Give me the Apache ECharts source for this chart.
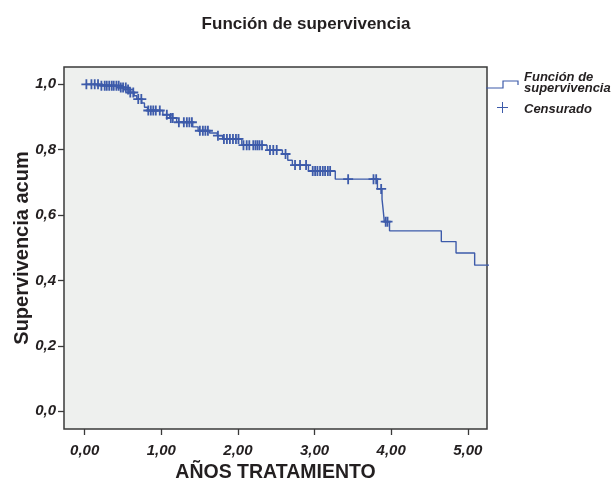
<!DOCTYPE html>
<html>
<head>
<meta charset="utf-8">
<script src="https://cdn.jsdelivr.net/npm/echarts@6/dist/echarts.min.js"></script>
<style>html,body{margin:0;padding:0;background:#fff}#c{width:612px;height:483px}</style>
</head>
<body>
<div id="c"></div>
<script>
// Kaplan-Meier step curve: event times (years) and cumulative survival after each event
const eventTimes = [0, 0.20, 0.45, 0.555, 0.59, 0.645, 0.68, 0.745, 0.78, 0.82, 1.02, 1.11, 1.20, 1.41, 1.48, 1.63, 1.73, 1.80, 2.05, 2.38, 2.58, 2.65, 2.71, 2.92, 3.27, 3.82, 3.88, 3.895, 3.91, 3.978, 4.654, 4.846, 5.089];
const survival   = [1.0, 0.996, 0.99, 0.984, 0.975, 0.965, 0.955, 0.943, 0.93, 0.92, 0.907, 0.897, 0.884, 0.870, 0.858, 0.851, 0.843, 0.833, 0.814, 0.799, 0.787, 0.768, 0.753, 0.735, 0.710, 0.680, 0.649, 0.616, 0.580, 0.552, 0.519, 0.484, 0.447];
const followUpEnd = 5.3;
// censored observation times (years)
const censoredTimes = [0.022, 0.088, 0.131, 0.174, 0.218, 0.261, 0.288, 0.320, 0.353, 0.379, 0.414, 0.444, 0.471, 0.501, 0.536, 0.566, 0.595, 0.634, 0.699, 0.739, 0.830, 0.863, 0.895, 0.928, 0.980, 1.072, 1.124, 1.150, 1.229, 1.294, 1.333, 1.366, 1.399, 1.503, 1.542, 1.575, 1.608, 1.739, 1.817, 1.856, 1.895, 1.935, 1.974, 2.007, 2.072, 2.114, 2.148, 2.200, 2.229, 2.255, 2.281, 2.314, 2.418, 2.461, 2.506, 2.621, 2.745, 2.810, 2.889, 2.976, 3.007, 3.037, 3.072, 3.107, 3.137, 3.173, 3.203, 3.438, 3.769, 3.804, 3.869, 3.928, 3.952];
const xTicks = [0, 1, 2, 3, 4, 5];
const yTicks = [0, 0.2, 0.4, 0.6, 0.8, 1.0];

const LINE = '#3D5BAA';
const FONT = "'Liberation Sans', Arial, sans-serif";

function survAt(t) {
  let s = survival[0];
  for (let i = 0; i < eventTimes.length; i++) { if (eventTimes[i] <= t) s = survival[i]; }
  return s;
}
const stepData = eventTimes.map((t, i) => [t, survival[i]]);
stepData.push([followUpEnd, survival[survival.length - 1]]);
const censData = censoredTimes.map(t => [t, survAt(t)]);

const chart = echarts.init(document.getElementById('c'), null, {renderer: 'canvas'});
const plus = 'path://M4.1,0 H5.9 V4.1 H10 V5.9 H5.9 V10 H4.1 V5.9 H0 V4.1 H4.1 Z';
const LEG_FONT = "italic bold 13px 'Liberation Sans', Arial";
chart.setOption({
  animation: false,
  backgroundColor: '#ffffff',
  title: {
    text: 'Función de supervivencia', left: 'center', top: 11,
    textStyle: {fontFamily: FONT, fontWeight: 'bold', fontSize: 17, color: '#231f20'}
  },
  grid: {
    left: 64, right: 125, top: 67, bottom: 54, show: true,
    outerBoundsMode: 'none', containLabel: false,
    backgroundColor: '#EEF0EE', borderColor: '#3a3a3a', borderWidth: 1.5
  },
  xAxis: {
    type: 'value', min: -0.27, max: 5.25,
    name: 'AÑOS TRATAMIENTO', nameLocation: 'middle', nameGap: 34, nameMoveOverlap: false,
    nameTextStyle: {fontFamily: FONT, fontWeight: 'bold', fontSize: 19.5, color: '#231f20'},
    axisLine: {show: false, onZero: false},
    axisTick: {show: true, customValues: xTicks, length: 6, lineStyle: {color: '#3a3a3a', width: 1.3}},
    axisLabel: {customValues: xTicks, margin: 14, fontFamily: FONT, fontStyle: 'italic', fontWeight: 'bold', fontSize: 15, color: '#231f20',
      formatter: v => v.toFixed(2).replace('.', ',')},
    splitLine: {show: false}
  },
  yAxis: {
    type: 'value', min: -0.054, max: 1.053,
    name: 'Supervivencia acum', nameLocation: 'middle', nameGap: 32, nameMoveOverlap: false,
    nameTextStyle: {fontFamily: FONT, fontWeight: 'bold', fontSize: 20, color: '#231f20'},
    axisLine: {show: false, onZero: false},
    axisTick: {show: true, customValues: yTicks, length: 6, lineStyle: {color: '#3a3a3a', width: 1.3}},
    axisLabel: {customValues: yTicks, margin: 8, fontFamily: FONT, fontStyle: 'italic', fontWeight: 'bold', fontSize: 15, color: '#231f20',
      formatter: v => v.toFixed(1).replace('.', ',')},
    splitLine: {show: false}
  },
  series: [
    {
      name: 'Función de supervivencia', type: 'line', step: 'end', data: stepData,
      showSymbol: false, clip: true, lineStyle: {color: LINE, width: 1.4}, itemStyle: {color: LINE}
    },
    {
      name: 'Censurado', type: 'scatter', data: censData, symbol: plus, symbolSize: 10,
      itemStyle: {color: LINE, opacity: 1}
    }
  ],
  graphic: [
    {type: 'polyline', shape: {points: [[486, 88], [503, 88], [503, 81], [518, 81], [518, 85]]},
      style: {stroke: LINE, lineWidth: 1.2, fill: null}},
    {type: 'text', left: 524, top: 71, style: {text: 'Función de', font: LEG_FONT, fill: '#231f20'}},
    {type: 'text', left: 524, top: 82, style: {text: 'supervivencia', font: LEG_FONT, fill: '#231f20'}},
    {type: 'line', shape: {x1: 497, y1: 107.5, x2: 508, y2: 107.5}, style: {stroke: LINE, lineWidth: 1}},
    {type: 'line', shape: {x1: 502.5, y1: 102, x2: 502.5, y2: 113}, style: {stroke: LINE, lineWidth: 1}},
    {type: 'text', left: 524, top: 103, style: {text: 'Censurado', font: LEG_FONT, fill: '#231f20'}}
  ]
});
</script>
</body>
</html>
